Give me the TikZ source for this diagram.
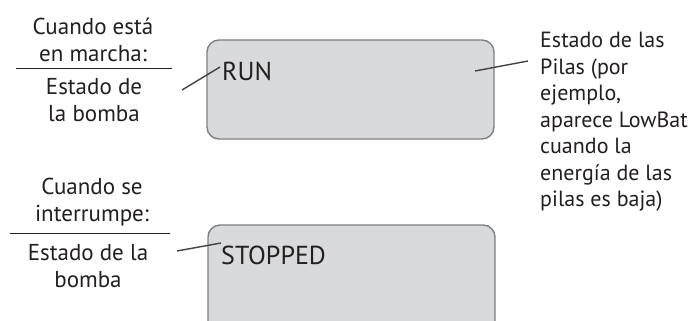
\documentclass[tikz,border=0pt]{standalone}
\usepackage{fontspec}
\setmainfont{PT Sans}
\definecolor{txt}{HTML}{231F20}
\definecolor{boxfill}{HTML}{D9DADC}
\definecolor{boxline}{HTML}{7F8082}
\begin{document}
\begin{tikzpicture}[x=1pt,y=-1pt,
  lbl/.style={inner sep=0pt, text=txt, align=center, font=\fontsize{23}{26.5}\selectfont},
  rlbl/.style={inner sep=0pt, text=txt, align=left, font=\fontsize{22}{26.5}\selectfont},
  disp/.style={inner sep=0pt, text=txt, anchor=west, font=\fontsize{26}{30}\selectfont},
  lcd/.style={draw=boxline, fill=boxfill, line width=1.4pt, rounded corners=12pt},
  rule/.style={draw=txt, line width=0.9pt},
  ptr/.style={draw=txt!85, line width=1.4pt}]
\useasboundingbox (0,0) rectangle (697,321);
\clip (0,0) rectangle (697,321);
% displays
\draw[lcd] (207,40) rectangle (494,139);
\draw[lcd] (208,225) rectangle (495,340);
\node[disp] (run) at (222,71) {RUN};
\node[disp] (stop) at (221,255) {STOPPED};
% left group 1
\node[lbl] (c1) at (93,40) {Cuando está\\en marcha:};
\coordinate (r1a) at (16,68);
\coordinate (r1b) at (172,68);
\draw[rule] (r1a) -- (r1b);
\node[lbl] (e1) at (94,100) {Estado de\\la bomba};
% left group 2
\node[lbl] (c2) at (92,202) {Cuando se\\interrumpe:};
\coordinate (r2a) at (10,233);
\coordinate (r2b) at (170,233);
\draw[rule] (r2a) -- (r2b);
\node[lbl] (e2) at (88,266) {Estado de la\\bomba};
% right label
\node[rlbl, anchor=west] (pilas) at (540,122) {Estado de las\\Pilas (por\\ejemplo,\\aparece LowBat\\cuando la\\energía de las\\pilas es baja)};
% pointers
\coordinate (p1s) at (182,90);
\coordinate (p1e) at (220,67);
\draw[ptr] (p1s) -- (p1e);
\coordinate (p2s) at (177,251);
\coordinate (p2e) at (221,243);
\draw[ptr] (p2s) -- (p2e);
\coordinate (p3s) at (475,71);
\coordinate (p3e) at (528,61);
\draw[ptr] (p3s) -- (p3e);
\end{tikzpicture}
\end{document}
